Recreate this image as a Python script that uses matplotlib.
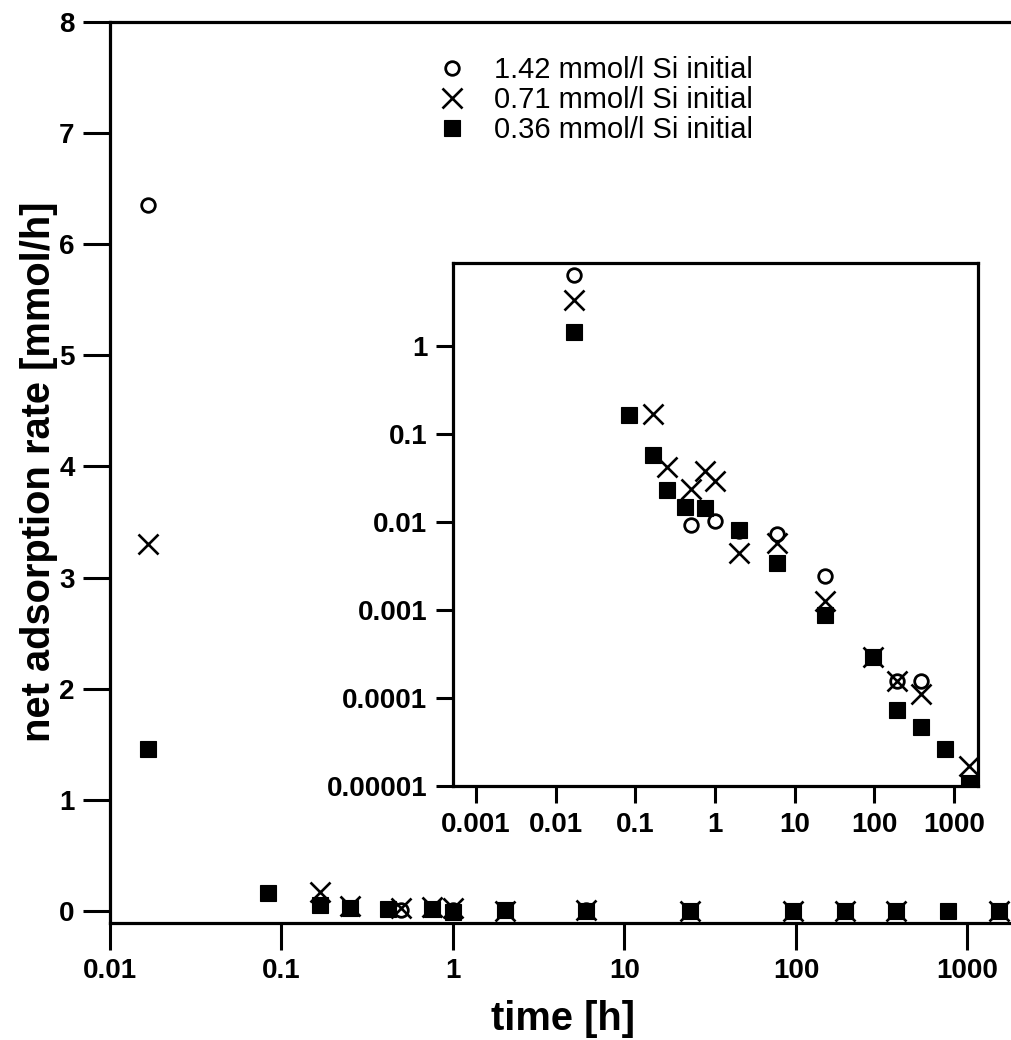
import matplotlib
matplotlib.use("Agg")
import matplotlib.pyplot as plt
import numpy as np
from matplotlib.ticker import FixedLocator, FixedFormatter, NullLocator

plt.rcParams['font.family'] = ['Liberation Sans', 'DejaVu Sans']

# ---- data (time in hours, rate in mmol/h) ----
t_142 = [0.0167, 0.5, 1, 2, 6, 24, 96, 192, 384]
r_142 = [6.35, 0.0092, 0.0102, 0.008, 0.0073, 0.00245, 0.00029, 0.000155, 0.000155]

t_071 = [0.0167, 0.167, 0.25, 0.5, 0.75, 1, 2, 6, 24, 96, 192, 384, 1536]
r_071 = [3.3, 0.17, 0.042, 0.024, 0.038, 0.029, 0.0044, 0.0058, 0.00125, 0.00029, 0.000155, 0.000112, 1.7e-5]

t_036 = [0.0167, 0.0833, 0.167, 0.25, 0.417, 0.75, 1, 2, 6, 24, 96, 192, 384, 768, 1536]
r_036 = [1.46, 0.165, 0.058, 0.023, 0.0148, 0.0145, -0.01, 0.0081, 0.0034, 0.00088, 0.00029, 7.3e-5, 4.7e-5, 2.6e-5, 1.07e-5]

labels = ["1.42 mmol/l Si initial", "0.71 mmol/l Si initial", "0.36 mmol/l Si initial"]

main_xticks = [0.01, 0.1, 1, 10, 100, 1000]
main_xticklabels = ["0.01", "0.1", "1", "10", "100", "1000"]
main_yticks = [0, 1, 2, 3, 4, 5, 6, 7, 8]
inset_xticks = [0.001, 0.01, 0.1, 1, 10, 100, 1000]
inset_xticklabels = ["0.001", "0.01", "0.1", "1", "10", "100", "1000"]
inset_yticks = [1, 0.1, 0.01, 0.001, 0.0001, 0.00001]
inset_yticklabels = ["1", "0.1", "0.01", "0.001", "0.0001", "0.00001"]

W, H = 1011, 1040
fig = plt.figure(figsize=(W / 100, H / 100), dpi=100)

def fx(px):
    return px / W

def fy(py):
    return 1 - py / H

circ_kw = dict(linestyle='none', marker='o', ms=9.8, mfc='white', mec='black', mew=2.0)
x_kw = dict(linestyle='none', marker='x', ms=15, mec='black', mew=1.9)
sq_kw = dict(linestyle='none', marker='s', ms=11, mfc='black', mec='black', mew=0.8)

# ---- main axes ----
ax = fig.add_axes([fx(110), fy(923), fx(1011 - 110), (923 - 22) / H])
l1, = ax.plot(t_142, r_142, label=labels[0], **circ_kw)
l2, = ax.plot(t_071, r_071, label=labels[1], **x_kw)
l3, = ax.plot(t_036, r_036, label=labels[2], **sq_kw)
ax.set_xscale('log')
ax.set_xlim(0.01, 10 ** 3.254)
ax.set_ylim(-0.108, 8)
ax.xaxis.set_major_locator(FixedLocator(main_xticks))
ax.xaxis.set_major_formatter(FixedFormatter(main_xticklabels))
ax.xaxis.set_minor_locator(NullLocator())
ax.set_yticks(main_yticks)
ax.spines['right'].set_visible(False)
for s in ['left', 'bottom', 'top']:
    ax.spines[s].set_linewidth(2.3)
ax.tick_params(axis='both', which='major', direction='out', length=19.5, width=2.2,
               labelsize=20, pad=6)
ax.tick_params(top=False, right=False)
for lab in ax.get_xticklabels() + ax.get_yticklabels():
    lab.set_fontweight('bold')

fig.text(fx(39), fy(472), "net adsorption rate [mmol/h]", rotation=90,
         ha='center', va='center', fontsize=28.7, fontweight='bold')
fig.text(fx(563), fy(1030), "time [h]", ha='center', va='baseline',
         fontsize=28.7, fontweight='bold')

leg = ax.legend(handles=[l1, l2, l3], loc='upper left',
                bbox_to_anchor=(fx(434), fy(56)), bbox_transform=fig.transFigure,
                frameon=False, fontsize=21, borderpad=0, borderaxespad=0,
                handlelength=1.2, handletextpad=0.86, labelspacing=0.07,
                numpoints=1)

# ---- inset axes ----
axi = fig.add_axes([fx(453), fy(786), fx(978 - 453), (786 - 263) / H])

def pos(t, r):
    t = np.asarray(t, dtype=float)
    r = np.asarray(r, dtype=float)
    m = r > 0
    return t[m], r[m]

axi.plot(*pos(t_142, r_142), **circ_kw)
axi.plot(*pos(t_071, r_071), **x_kw)
axi.plot(*pos(t_036, r_036), **sq_kw)
axi.set_xscale('log')
axi.set_yscale('log')
axi.set_xlim(10 ** -3.29, 10 ** 3.30)
axi.set_ylim(1e-5, 10 ** 0.943)
axi.xaxis.set_major_locator(FixedLocator(inset_xticks))
axi.xaxis.set_major_formatter(FixedFormatter(inset_xticklabels))
axi.yaxis.set_major_locator(FixedLocator(inset_yticks))
axi.yaxis.set_major_formatter(FixedFormatter(inset_yticklabels))
axi.xaxis.set_minor_locator(NullLocator())
axi.yaxis.set_minor_locator(NullLocator())
for s in axi.spines.values():
    s.set_linewidth(2.3)
axi.tick_params(axis='both', which='major', direction='out', length=12.5, width=2.2,
                labelsize=20, pad=6)
for lab in axi.get_xticklabels() + axi.get_yticklabels():
    lab.set_fontweight('bold')

fig.savefig("out.png", dpi=100)
